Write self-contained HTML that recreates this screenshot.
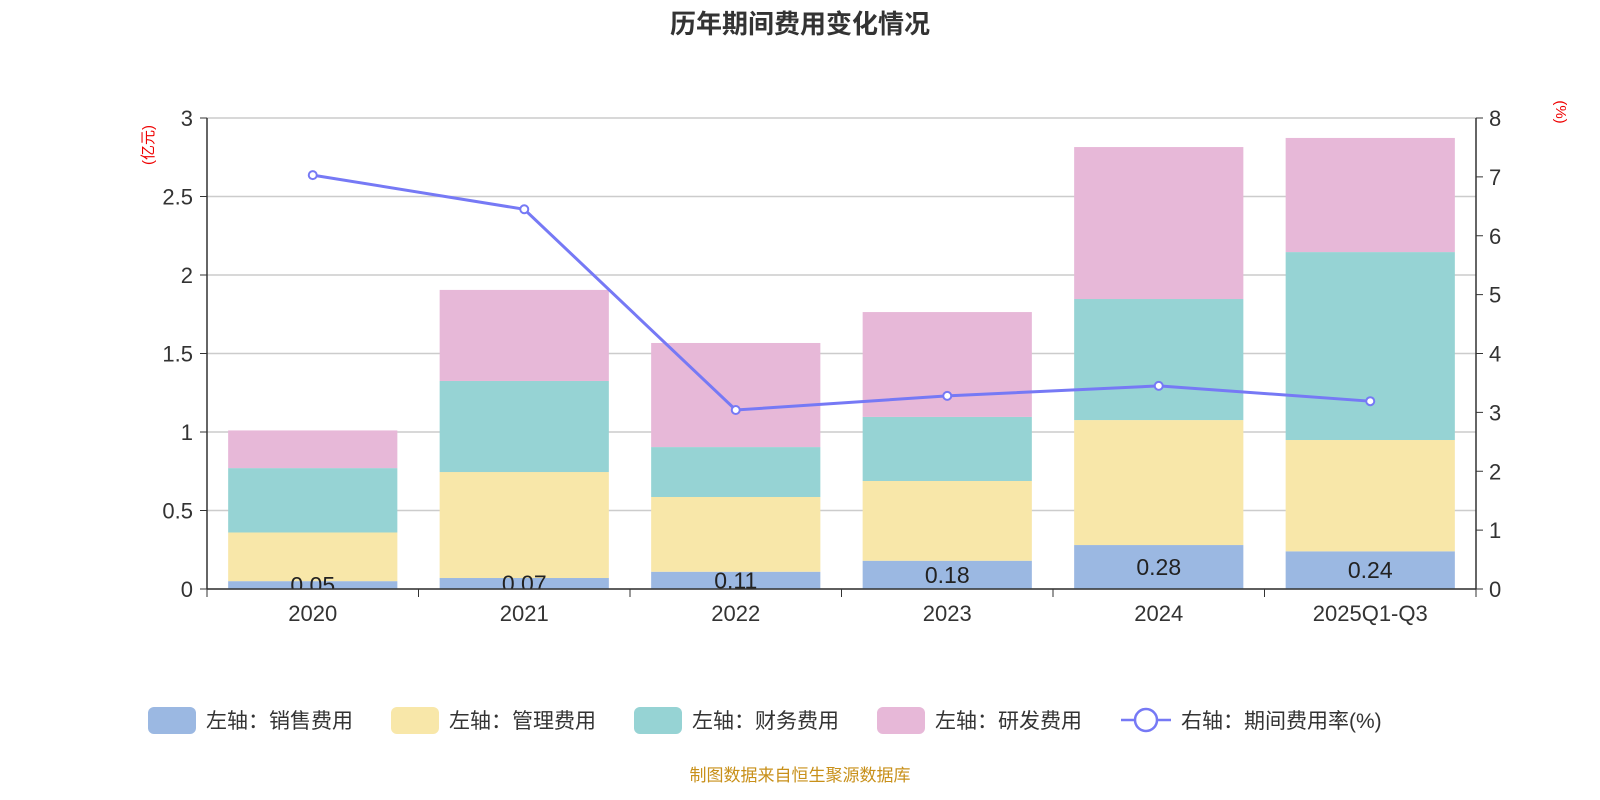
<!DOCTYPE html>
<html><head><meta charset="utf-8"><style>
body{margin:0;background:#fff;}
svg{display:block;font-family:"Liberation Sans","Noto Sans CJK SC",sans-serif;}
</style></head><body>
<svg id="c" width="1600" height="800">
<defs><clipPath id="plotclip"><rect x="200" y="100" width="1290" height="489"/></clipPath></defs>
<text x="800" y="33" text-anchor="middle" font-size="26" font-weight="bold" fill="#333">历年期间费用变化情况</text>
<text transform="translate(153,145) rotate(-90)" text-anchor="middle" font-size="15" fill="#e00">(亿元)</text>
<text transform="translate(1556,112) rotate(90)" text-anchor="middle" font-size="15" fill="#e00">(%)</text>
<g id="grid"></g><g id="bars"></g><g id="labels" clip-path="url(#plotclip)"></g><g id="axes"></g><g id="line"></g>
<g id="legend" font-size="21" fill="#333"></g>
<text x="800" y="781" text-anchor="middle" font-size="17" fill="#c8901a">制图数据来自恒生聚源数据库</text>
</svg>
<script>
const categories=["2020","2021","2022","2023","2024","2025Q1-Q3"];
const sales=[0.05,0.07,0.11,0.18,0.28,0.24];
const mgmt=[0.31,0.675,0.476,0.508,0.796,0.709];
const fin=[0.41,0.58,0.318,0.408,0.771,1.197];
const rd=[0.24,0.58,0.663,0.668,0.968,0.727];
const rate=[7.03,6.45,3.04,3.28,3.45,3.19];
const leftTicks=["0","0.5","1","1.5","2","2.5","3"];
const rightTicks=["0","1","2","3","4","5","6","7","8"];
const NS="http://www.w3.org/2000/svg";
const X0=207,X1=1476,Y0=589,Y1=118,LMAX=3,RMAX=8;
const bw=(X1-X0)/categories.length;
const yL=v=>Y0-(Y0-Y1)*v/LMAX, yR=v=>Y0-(Y0-Y1)*v/RMAX, xc=i=>X0+bw*(i+0.5);
function mk(t,a,p){const e=document.createElementNS(NS,t);for(const k in a)e.setAttribute(k,a[k]);(p||document.getElementById('c')).appendChild(e);return e;}
const G=id=>document.getElementById(id);
leftTicks.forEach(t=>{const y=yL(+t);
 const l=mk('line',{x1:X0,x2:X1,y1:y,y2:y,stroke:'#ccc','stroke-width':1.5},G('grid'));
 
 
 mk('line',{x1:X0-7,x2:X0,y1:y,y2:y,stroke:'#333'},G('axes'));
 const tx=mk('text',{x:X0-14,y:y+8,'text-anchor':'end','font-size':22,fill:'#333'},G('axes'));tx.textContent=t;
 
 });
rightTicks.forEach(t=>{const y=yR(+t);
 mk('line',{x1:X1,x2:X1+7,y1:y,y2:y,stroke:'#333'},G('axes'));
 const tx=mk('text',{x:X1+13,y:y+8,'font-size':22,fill:'#333'},G('axes'));tx.textContent=t;
 
 });
mk('line',{x1:X0,x2:X0,y1:Y1,y2:Y0,stroke:'#333','stroke-width':1.5},G('axes'));
mk('line',{x1:X1,x2:X1,y1:Y1,y2:Y0,stroke:'#333','stroke-width':1.5},G('axes'));
mk('line',{x1:X0,x2:X1,y1:Y0,y2:Y0,stroke:'#333','stroke-width':1.5},G('axes'));
const series=[[sales,'#9bb8e2','sales'],[mgmt,'#f8e7a9','mgmt'],[fin,'#96d3d4','finance'],[rd,'#e7b8d8','rnd']];
for(let i=0;i<=categories.length;i++)mk('line',{x1:X0+bw*i,x2:X0+bw*i,y1:Y0,y2:Y0+8,stroke:'#333'},G('axes'));
categories.forEach((c,i)=>{
 const tx=mk('text',{x:xc(i),y:Y0+32,'text-anchor':'middle','font-size':22,fill:'#333'},G('axes'));tx.textContent=c;
 
 
 let acc=0;const w=bw*0.8;
 series.forEach(([arr,col,nm])=>{const y0=yL(acc),y1=yL(acc+arr[i]);acc+=arr[i];
  const r=mk('rect',{x:xc(i)-w/2,y:y1,width:w,height:y0-y1,fill:col},G('bars'));
  
  });
 const ly=(yL(0)+yL(sales[i]))/2+8;
 const lb=mk('text',{x:xc(i),y:ly,'text-anchor':'middle','font-size':23,fill:'#222'},G('labels'));lb.textContent=sales[i].toFixed(2);
 
 
});
const pl=mk('polyline',{points:rate.map((v,i)=>xc(i)+','+yR(v)).join(' '),fill:'none',stroke:'#7679f5','stroke-width':3},G('line'));


rate.forEach((v,i)=>{const p=mk('circle',{cx:xc(i),cy:yR(v),r:4,fill:'#fff',stroke:'#7679f5','stroke-width':2},G('line'));
 
 });
const leg=[['#9bb8e2','左轴：销售费用',148],['#f8e7a9','左轴：管理费用',391],['#96d3d4','左轴：财务费用',634],['#e7b8d8','左轴：研发费用',877]];
leg.forEach(([c,t,x])=>{const r=mk('rect',{x:x,y:707,width:48,height:27,rx:6,fill:c},G('legend'));
 
 
 const tx=mk('text',{x:x+58,y:728},G('legend'));tx.textContent=t;
 
 });
mk('line',{x1:1121,x2:1171,y1:720,y2:720,stroke:'#7679f5','stroke-width':2.5},G('legend'));
mk('circle',{cx:1146,cy:720,r:11,fill:'#fff',stroke:'#7679f5','stroke-width':2.5},G('legend'));
const lt=mk('text',{x:1181,y:728},G('legend'));lt.textContent='右轴：期间费用率(%)';


</script>
</body></html>
